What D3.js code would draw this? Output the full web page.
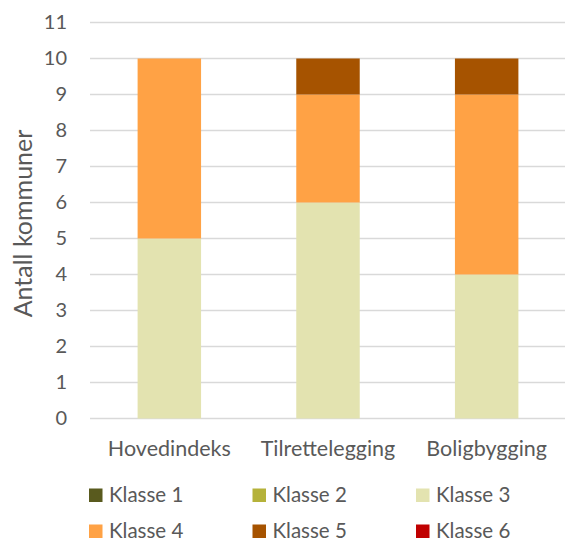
<!DOCTYPE html>
<html>
<head>
<meta charset="utf-8">
<script src="https://cdn.jsdelivr.net/npm/d3@7"></script>
<style>
  html, body { margin: 0; padding: 0; background: #fff; }
  svg { display: block; }
  text { font-family: Lato, "Open Sans", sans-serif; fill: #595959; }
</style>
</head>
<body>
<svg id="chart" width="565" height="543"></svg>
<script>
// Categories and series (number of municipalities per class)
const categories = ["Hovedindeks", "Tilrettelegging", "Boligbygging"];
const seriesNames = ["Klasse 1", "Klasse 2", "Klasse 3", "Klasse 4", "Klasse 5", "Klasse 6"];
const klasse1 = [0, 0, 0];
const klasse2 = [0, 0, 0];
const klasse3 = [5, 6, 4];
const klasse4 = [5, 3, 5];
const klasse5 = [0, 1, 1];
const klasse6 = [0, 0, 0];
const yTicks = [0, 1, 2, 3, 4, 5, 6, 7, 8, 9, 10, 11];
const seriesColors = ["#595a1e", "#b5b23a", "#e3e3b0", "#ffa245", "#a65300", "#c00000"];

const seriesValues = [klasse1, klasse2, klasse3, klasse4, klasse5, klasse6];
const rows = categories.map((c, i) => {
  const r = { category: c };
  seriesNames.forEach((s, j) => { r[s] = seriesValues[j][i]; });
  return r;
});

const svg = d3.select("#chart");
const plotLeft = 90, plotRight = 566, plotTop = 22.5, plotBottom = 418.5;
const fontStack = "Lato, 'Open Sans', sans-serif";

const x = d3.scaleBand().domain(categories).range([plotLeft, plotRight]).paddingInner(0.6).paddingOuter(0.3);
const y = d3.scaleLinear().domain([0, 11]).range([plotBottom, plotTop]);

// Gridlines
svg.append("g").selectAll("line").data(yTicks).join("line")
  .attr("x1", plotLeft).attr("x2", 565)
  .attr("y1", d => y(d)).attr("y2", d => y(d))
  .attr("stroke", "#d9d9d9").attr("stroke-width", 1.3);

// Stacked bars
const stack = d3.stack().keys(seriesNames)(rows);
svg.append("g").selectAll("g").data(stack).join("g")
  .attr("fill", (d, i) => seriesColors[i])
  .selectAll("rect").data(d => d.filter(p => p[1] - p[0] > 0)).join("rect")
  .attr("x", d => x(d.data.category))
  .attr("width", x.bandwidth())
  .attr("y", d => y(d[1]))
  .attr("height", d => y(d[0]) - y(d[1]));

// Y axis labels
const yAxis = svg.append("g").attr("transform", `translate(${plotLeft - 23},0)`)
  .call(d3.axisLeft(y).tickValues(yTicks).tickSize(0).tickPadding(0));
yAxis.select(".domain").remove();
yAxis.selectAll("text").attr("font-size", 20).attr("fill", "#595959")
  .style("font-family", fontStack);

// X axis labels
const xAxis = svg.append("g").attr("transform", `translate(0,${plotBottom})`)
  .call(d3.axisBottom(x).tickSize(0).tickPadding(22));
xAxis.select(".domain").remove();
xAxis.selectAll("text").attr("font-size", 21.5).attr("fill", "#595959")
  .style("font-family", fontStack);

// Axis title
svg.append("text")
  .attr("transform", `translate(32,${(130 + 317) / 2}) rotate(-90)`)
  .attr("text-anchor", "middle")
  .attr("font-size", 25)
  .text("Antall kommuner");

// Legend (two rows of three)
const legend = svg.append("g");
seriesNames.forEach((s, i) => {
  const col = i % 3, row = Math.floor(i / 3);
  const g = legend.append("g").attr("transform", `translate(${89 + col * 163.5},${502 + row * 36})`);
  g.append("rect").attr("x", 0).attr("y", -13.5).attr("width", 13.5).attr("height", 13.5).attr("fill", seriesColors[i]);
  g.append("text").attr("x", 20).attr("y", 0).attr("font-size", 20.5).text(s);
});
</script>
</body>
</html>
